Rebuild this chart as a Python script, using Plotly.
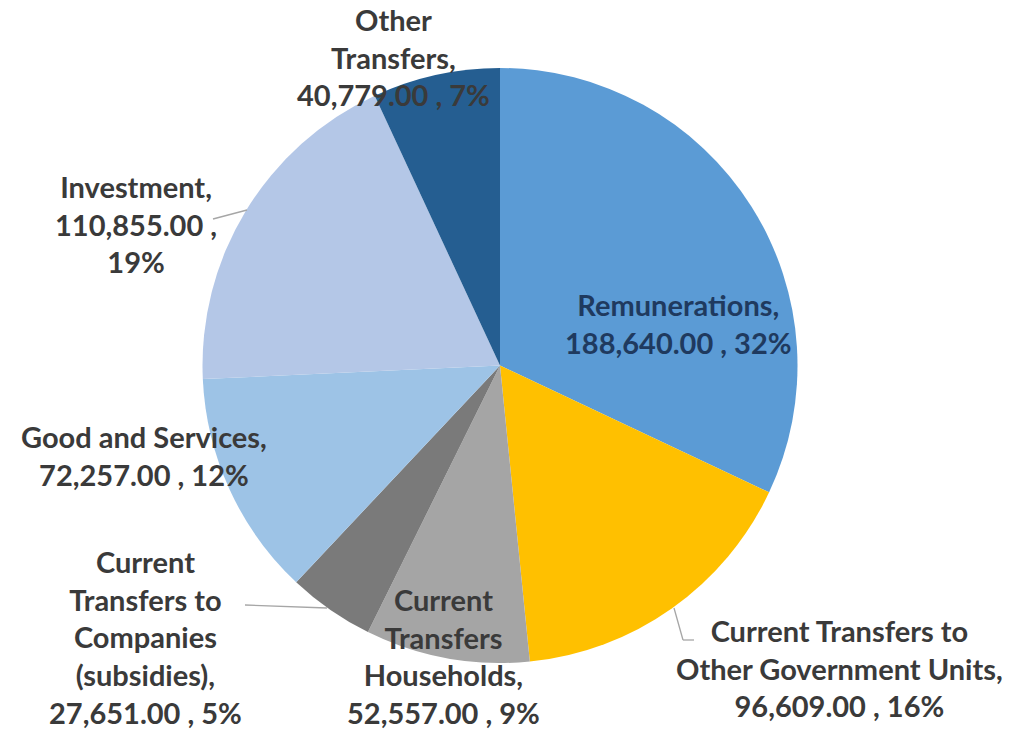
import plotly.graph_objects as go

# Expenditure by economic classification
categories = [
    "Remunerations",
    "Current Transfers to Other Government Units",
    "Current Transfers Households",
    "Current Transfers to Companies (subsidies)",
    "Good and Services",
    "Investment",
    "Other Transfers",
]
values = [188640.00, 96609.00, 52557.00, 27651.00, 72257.00, 110855.00, 40779.00]
colors = ["#5B9BD5", "#FFC000", "#A5A5A5", "#7A7A7A", "#9DC3E6", "#B4C7E7", "#255E91"]

# Label line breaks for each category (display text)
label_lines = [
    ["Remunerations,"],
    ["Current Transfers to", "Other Government Units,"],
    ["Current", "Transfers", "Households,"],
    ["Current", "Transfers to", "Companies", "(subsidies),"],
    ["Good and Services,"],
    ["Investment,"],
    ["Other", "Transfers,"],
]

W, H = 1013, 730
cx, cy, r = 500, 365.5, 297.5

total = sum(values)
pcts = [round(v / total * 100) for v in values]

fig = go.Figure(go.Pie(
    labels=categories,
    values=values,
    sort=False,
    direction="clockwise",
    rotation=0,
    marker=dict(colors=colors, line=dict(width=0)),
    textinfo="none",
    hoverinfo="label+value+percent",
    showlegend=False,
    domain=dict(x=[(cx - r) / W, (cx + r) / W], y=[(H - cy - r) / H, (H - cy + r) / H]),
))


def px(x):
    return x / W


def py(y):
    return 1 - y / H


def value_line(v, p):
    return f"{v:,.2f} , {p}%"


# Label placement (pixel centre of each text block), text colour
placements = [
    (678, 323, "#1F3A5F", "single"),
    (839, 668, "#3A3A3A", "single"),
    (443, 656, "#3A3A3A", "single"),
    (145, 637, "#3A3A3A", "single"),
    (144, 455, "#3A3A3A", "single"),
    (136, 224, "#3A3A3A", "inv"),
    (393, 57, "#3A3A3A", "single"),
]

annotations = []
for i, (x, y, col, mode) in enumerate(placements):
    lines = list(label_lines[i])
    if mode == "inv":
        lines += [f"{values[i]:,.2f} ,", f"{pcts[i]}%"]
    else:
        lines.append(value_line(values[i], pcts[i]))
    annotations.append(dict(
        x=px(x), y=py(y), xref="paper", yref="paper",
        text="<br>".join(lines),
        showarrow=False, align="center",
        xanchor="center", yanchor="middle",
        font=dict(family="Lato", size=29, color=col, weight="bold"),
    ))

# Leader lines connecting outside labels to their slices
leaders = [
    [(213, 219), (247, 210)],
    [(245, 605), (327, 608)],
    [(674, 608), (683, 640), (694, 640)],
]
shapes = []
for pts in leaders:
    for (x0, y0), (x1, y1) in zip(pts[:-1], pts[1:]):
        shapes.append(dict(
            type="line", xref="paper", yref="paper",
            x0=px(x0), y0=py(y0), x1=px(x1), y1=py(y1),
            line=dict(color="#A6A6A6", width=1.3),
        ))

fig.update_layout(
    width=W, height=H,
    margin=dict(l=0, r=0, t=0, b=0),
    paper_bgcolor="white",
    plot_bgcolor="white",
    annotations=annotations,
    shapes=shapes,
)

fig.write_html("out.html")
